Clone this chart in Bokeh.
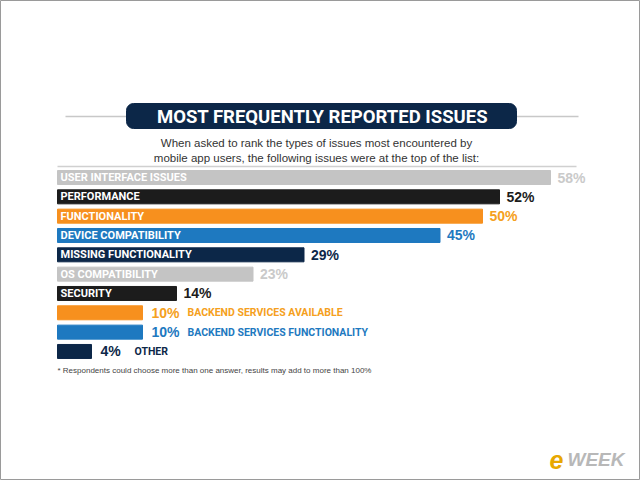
from bokeh.plotting import figure
from bokeh.models import Range1d
from bokeh.core.properties import value
from bokeh.embed import file_html
from bokeh.resources import INLINE

# ---- data ----
categories = ["USER INTERFACE ISSUES", "PERFORMANCE", "FUNCTIONALITY",
              "DEVICE COMPATIBILITY", "MISSING FUNCTIONALITY", "OS COMPATIBILITY",
              "SECURITY", "BACKEND SERVICES AVAILABLE",
              "BACKEND SERVICES FUNCTIONALITY", "OTHER"]
percent = [58, 52, 50, 45, 29, 23, 14, 10, 10, 4]
title = "MOST FREQUENTLY REPORTED ISSUES"
subtitle = ["When asked to rank the types of issues most encountered by",
            "mobile app users, the following issues were at the top of the list:"]
footnote = "* Respondents could choose more than one answer, results may add to more than 100%"

# ---- styles ----
bar_colors = ["#c4c4c4", "#1c1c1c", "#f7901e", "#1e79c0", "#0c2748",
              "#c4c4c4", "#1c1c1c", "#f7901e", "#1e79c0", "#0c2748"]
pct_colors = ["#cacaca", "#1c1c1c", "#f5a020", "#1e79c0", "#0c2748",
              "#cacaca", "#1c1c1c", "#f5a020", "#1e79c0", "#0c2748"]
NARROW = value("Roboto")
SANS = value("Liberation Sans")

PXPER = 8.5      # pixels per percent
X0 = 57          # pixel of 0%
def px(x):
    return (x - X0) / PXPER

p = figure(width=640, height=480, output_backend="svg", toolbar_location=None,
           x_range=Range1d(px(0), px(640)), y_range=Range1d(480, 0),
           min_border=0)
p.axis.visible = False
p.grid.visible = False
p.outline_line_color = "#9a9a9a"
p.background_fill_color = "white"

# rows
row_y = [177 + 19.33 * i for i in range(len(categories))]

p.hbar(y=row_y, left=0, right=percent, height=14, color=bar_colors)

inside = [v >= 14 for v in percent]
# labels inside bars
p.text(x=[px(60)] * sum(inside), y=[y for y, k in zip(row_y, inside) if k],
       text=[c for c, k in zip(categories, inside) if k],
       text_color="white", text_font=NARROW, text_font_style="bold",
       text_font_size="11px", text_baseline="middle", text_align="left")
# percentage labels
p.text(x=[v + 7 / PXPER + (2 / PXPER if not k else 0) for v, k in zip(percent, inside)],
       y=row_y, text=[f"{v}%" for v in percent], text_color=pct_colors,
       text_font=SANS, text_font_style="bold", text_font_size="14px",
       text_baseline="middle", text_align="left")
# labels outside bars
out_idx = [i for i, k in enumerate(inside) if not k]
p.text(x=[percent[i] + 45 / PXPER if percent[i] >= 10 else percent[i] + 43 / PXPER for i in out_idx],
       y=[row_y[i] for i in out_idx], text=[categories[i] for i in out_idx],
       text_color=[pct_colors[i] for i in out_idx], text_font=NARROW,
       text_font_style="bold", text_font_size="10.5px", text_baseline="middle",
       text_align="left")

# title banner
p.segment(x0=[px(65), px(516)], x1=[px(126), px(578)], y0=[116, 116], y1=[116, 116],
          line_color="#c8c8c8", line_width=1.5)
p.quad(left=px(126), right=px(516), top=103, bottom=128, color="#0c2748",
       border_radius=7)
p.text(x=[px(322)], y=[116], text=[title], text_color="white", text_font=NARROW,
       text_font_style="bold", text_font_size="18.5px", text_baseline="middle",
       text_align="center")
p.text(x=[px(316), px(316)], y=[142, 157], text=subtitle, text_color="#333333",
       text_font=SANS, text_font_size="11.5px", text_baseline="middle",
       text_align="center")
p.segment(x0=[px(57)], x1=[px(576)], y0=[166], y1=[166], line_color="#d0d0d0",
          line_width=1.5)

# footnote
p.text(x=[px(57)], y=[370], text=[footnote], text_color="#444444", text_font=SANS,
       text_font_size="8px", text_baseline="middle", text_align="left")

# logo
p.text(x=[px(549)], y=[459], text=["e"], text_color="#e8a800", text_font=SANS,
       text_font_style="bold italic", text_font_size="25px", text_baseline="middle",
       text_align="left")
p.text(x=[px(567)], y=[459], text=["WEEK"], text_color="#b8b8b8", text_font=SANS,
       text_font_style="bold italic", text_font_size="19px", text_baseline="middle",
       text_align="left")

open("out.html", "w").write(file_html(p, INLINE))
